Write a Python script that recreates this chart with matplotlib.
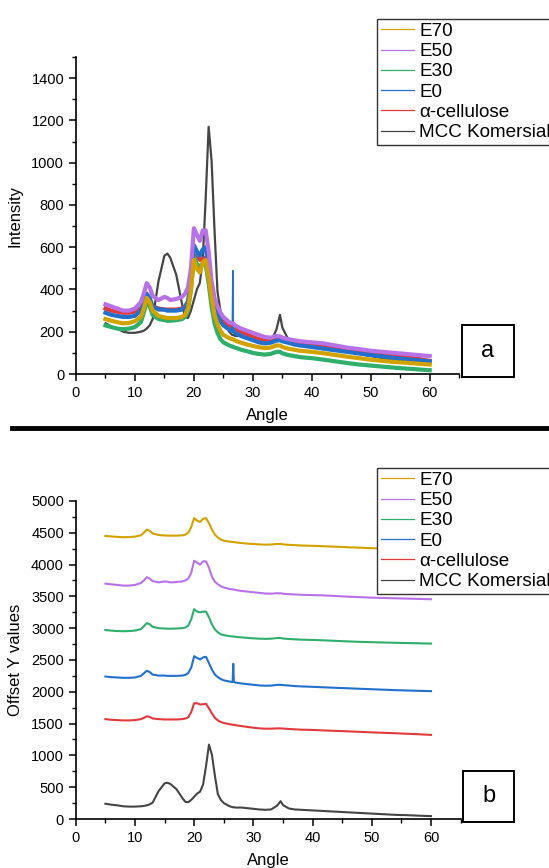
import matplotlib
matplotlib.use('Agg')
import matplotlib.pyplot as plt
from matplotlib.patches import Rectangle
from matplotlib.lines import Line2D
from matplotlib.ticker import MultipleLocator
import numpy as np

plt.rcParams['font.family'] = ['Liberation Sans', 'DejaVu Sans']

# ========================================================================
# data (2-theta angle vs intensity)
angle = [5, 6, 7, 8, 9, 10, 11, 11.5, 12, 12.5, 13, 14, 15, 15.5, 16, 17, 18, 18.5,
         19, 19.5, 20, 20.5, 21, 21.5, 22, 22.5, 23, 23.5, 24, 24.5, 25, 26, 26.5,
         26.6, 26.7, 27, 28, 29, 30, 31, 32, 33, 34, 34.6, 35, 36, 37, 38, 40, 42,
         44, 46, 48, 50, 52, 54, 56, 58, 60]

mcc = [240, 225, 215, 200, 195, 195, 200, 205, 215, 230, 260, 440, 560, 570, 550, 470,
       330, 270, 265, 300, 350, 400, 430, 540, 830, 1170, 1010, 680, 390, 300, 250, 200,
       185, 185, 185, 180, 180, 170, 160, 150, 145, 150, 210, 280, 220, 165, 150, 145,
       135, 125, 115, 105, 95, 85, 75, 65, 60, 52, 45]

alpha_cel = [310, 300, 295, 290, 290, 295, 310, 330, 355, 345, 320, 310, 305, 305, 305,
             305, 310, 320, 340, 420, 560, 560, 540, 545, 550, 480, 400, 330, 290, 265,
             250, 230, 222, 222, 220, 215, 200, 188, 175, 165, 160, 160, 165, 165, 162,
             155, 150, 145, 140, 132, 125, 118, 110, 102, 95, 88, 80, 72, 62]

e0 = [290, 280, 275, 270, 270, 275, 300, 340, 380, 360, 320, 305, 305, 300, 300, 300,
      305, 315, 345, 430, 610, 580, 560, 590, 600, 500, 400, 320, 280, 250, 230, 210,
      205, 490, 205, 195, 180, 170, 160, 150, 145, 148, 158, 160, 155, 148, 140, 135,
      128, 120, 112, 105, 97, 90, 83, 76, 70, 65, 60]

e30 = [230, 222, 215, 212, 215, 222, 245, 290, 340, 320, 280, 260, 255, 252, 252, 255,
       260, 270, 300, 400, 560, 520, 510, 520, 520, 430, 320, 240, 195, 165, 150, 135,
       130, 130, 128, 125, 115, 108, 100, 95, 92, 95, 105, 105, 98, 90, 85, 80, 75, 68,
       60, 52, 45, 40, 35, 30, 26, 22, 18]

e50 = [330, 320, 310, 300, 300, 310, 340, 380, 430, 410, 370, 350, 365, 360, 350, 355,
       365, 380, 410, 500, 690, 660, 630, 680, 680, 580, 440, 360, 320, 290, 270, 245,
       240, 240, 238, 230, 215, 205, 195, 185, 175, 172, 180, 178, 172, 165, 160, 155,
       150, 145, 135, 125, 118, 110, 105, 100, 95, 90, 85]

e70 = [260, 252, 245, 240, 242, 250, 270, 310, 360, 340, 300, 275, 268, 265, 265, 265,
       270, 280, 310, 400, 540, 500, 480, 530, 540, 460, 360, 280, 235, 205, 185, 170,
       165, 165, 163, 158, 148, 140, 133, 127, 123, 125, 135, 135, 128, 120, 115, 110,
       105, 98, 90, 82, 75, 68, 62, 57, 53, 49, 45]

# offsets used in panel b
offset_mcc = 0
offset_alpha = 1260
offset_e0 = 1950
offset_e30 = 2740
offset_e50 = 3370
offset_e70 = 4190

# ========================================================================
c_mcc = '#454545'
c_alpha = '#e23a3c'
c_e0 = '#2270cc'
c_e30 = '#2fae6c'
c_e50 = '#b872e8'
c_e70 = '#d2a200'

labels = ['E70', 'E50', 'E30', 'E0', 'α-cellulose', 'MCC Komersial']
colors = [c_e70, c_e50, c_e30, c_e0, c_alpha, c_mcc]

fig = plt.figure(figsize=(5.49, 8.68), dpi=100)

ax1 = fig.add_axes([0.1384, 0.5691, 0.698, 0.3652])
ax2 = fig.add_axes([0.1380, 0.05645, 0.701, 0.3664])


def style_axes(ax):
    for s in ['top', 'right']:
        ax.spines[s].set_visible(False)
    for s in ['left', 'bottom']:
        ax.spines[s].set_linewidth(1.2)
    ax.tick_params(which='major', direction='out', length=5, width=1.1, labelsize=10.5)
    ax.tick_params(which='minor', direction='out', length=3, width=1.0)
    ax.set_xlim(0, 65)
    ax.xaxis.set_minor_locator(MultipleLocator(5))
    ax.set_xticks([0, 10, 20, 30, 40, 50, 60])
    ax.set_xlabel('Angle', fontsize=12, labelpad=6)


# панель a
lw_top = 3.0
# пик E0 на 26.6 - тонкая линия (точки 32..34)
spike = [32, 33, 34]
e0_body_x = [a for i, a in enumerate(angle) if i != 33]
e0_body_y = [v for i, v in enumerate(e0) if i != 33]

ax1.plot(angle, mcc, color=c_mcc, lw=1.6)
ax1.plot(angle, alpha_cel, color=c_alpha, lw=lw_top)
ax1.plot(angle, e30, color=c_e30, lw=lw_top)
ax1.plot(e0_body_x, e0_body_y, color=c_e0, lw=lw_top)
ax1.plot([angle[i] for i in spike], [e0[i] for i in spike], color=c_e0, lw=1.0)
ax1.plot(angle, e50, color=c_e50, lw=lw_top)
ax1.plot(angle, e70, color=c_e70, lw=lw_top)
style_axes(ax1)
ax1.set_ylim(0, 1500)
ax1.yaxis.set_minor_locator(MultipleLocator(100))
ax1.set_yticks([0, 200, 400, 600, 800, 1000, 1200, 1400])
ax1.set_ylabel('Intensity', fontsize=12, labelpad=6)

# панель b
lw_bot = 1.5
ax2.plot(angle, np.array(mcc) + offset_mcc, color=c_mcc, lw=lw_bot)
ax2.plot(angle, np.array(alpha_cel) + offset_alpha, color=c_alpha, lw=lw_bot)
ax2.plot(angle, np.array(e0) + offset_e0, color=c_e0, lw=lw_bot)
ax2.plot(angle, np.array(e30) + offset_e30, color=c_e30, lw=lw_bot)
ax2.plot(angle, np.array(e50) + offset_e50, color=c_e50, lw=lw_bot)
ax2.plot(angle, np.array(e70) + offset_e70, color=c_e70, lw=lw_bot)
style_axes(ax2)
ax2.set_ylim(0, 5000)
ax2.yaxis.set_major_locator(MultipleLocator(500))
ax2.yaxis.set_minor_locator(MultipleLocator(250))
ax2.set_ylabel('Offset Y values', fontsize=12, labelpad=6)

# легенды (обрезаются краем рисунка, как в оригинале)
handles = [Line2D([], [], color=c, lw=0.9) for c in colors]
for y_top in [1 - 19/868, 1 - 468/868]:
    leg = fig.legend(handles, labels, loc='upper left', bbox_to_anchor=(377/549, y_top),
                     fontsize=13.6, frameon=True, fancybox=False, framealpha=1,
                     edgecolor='#333333', borderpad=0.2, labelspacing=0.16,
                     handlelength=1.75, handletextpad=0.28, borderaxespad=0)
    leg.get_frame().set_linewidth(1.0)

# рамки с буквами
for (x0, y0, x1, y1, txt) in [(462, 325, 514, 377, 'a'), (463, 771, 514, 822, 'b')]:
    fig.add_artist(Rectangle((x0/549, 1 - y1/868), (x1 - x0)/549, (y1 - y0)/868,
                             transform=fig.transFigure, fill=False, lw=1.4, ec='black'))
    fig.text((x0 + x1)/2/549, 1 - (y0 + y1)/2/868, txt, ha='center', va='center',
             fontsize=17)

# разделительная линия
fig.add_artist(Line2D([12/549, 1], [1 - 428/868, 1 - 428/868], transform=fig.transFigure,
                      color='black', lw=3.5))

fig.savefig('out.png', dpi=100)
